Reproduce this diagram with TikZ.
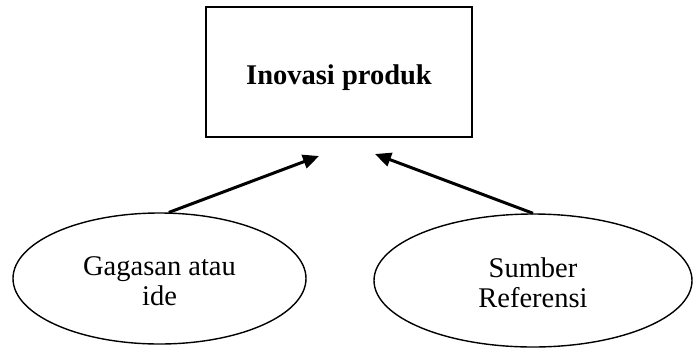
\documentclass[tikz,border=0pt]{standalone}
\usepackage{fontspec}
\setmainfont{Liberation Serif}
\usetikzlibrary{shapes.geometric,arrows.meta}
\begin{document}
\begin{tikzpicture}[x=1pt,y=-1pt,
  every node/.style={font=\fontsize{28.5}{30}\selectfont},
  mainbox/.style={draw,line width=2.6pt,rectangle,minimum width=266pt,minimum height=130pt,inner sep=0pt,text height=30pt,text depth=6pt,font=\fontsize{28.5}{30}\selectfont\bfseries},
  oval/.style={draw,line width=1.4pt,ellipse,inner sep=0pt,align=center,text height=54pt,text depth=0pt},
  link/.style={line width=3pt,-{Triangle[length=16pt,width=14pt]}}]
\useasboundingbox (0,0) rectangle (693,349);
\node[mainbox] (main) at (339,72) {Inovasi produk};
\node[oval,minimum width=293pt,minimum height=131pt] (ide) at (159.5,278.5) {Gagasan atau\\ide};
\node[oval,minimum width=318pt,minimum height=133pt] (ref) at (533,280.5) {Sumber\\Referensi};
\coordinate (tipL) at (319,156);
\coordinate (tipR) at (375,154);
\draw[link] (ide.82) -- (tipL);
\draw[link] (ref.north) -- (tipR);
\end{tikzpicture}
\end{document}
